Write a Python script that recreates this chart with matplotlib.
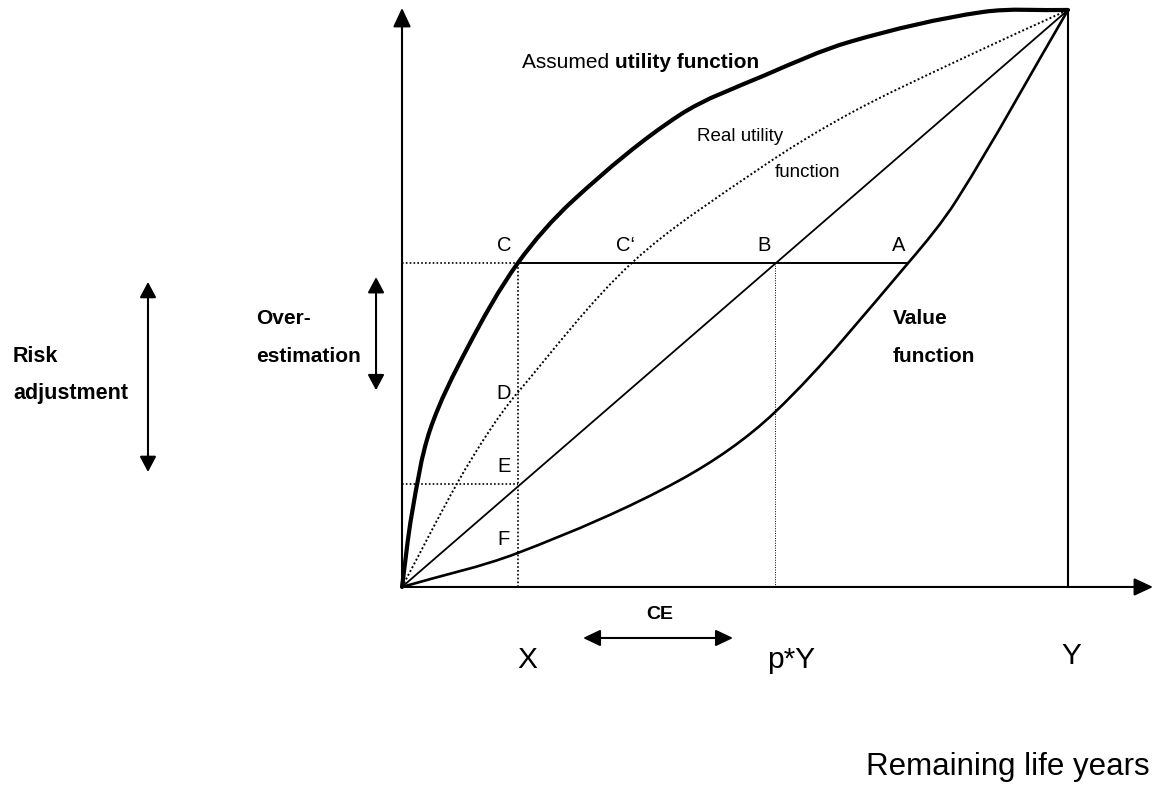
import math
import matplotlib.pyplot as plt
from matplotlib.path import Path
from matplotlib.patches import PathPatch

plt.rcParams['font.family'] = ['Liberation Sans', 'DejaVu Sans']

# diagram units: x = share of Y (remaining life years), y = utility (0..1)
# assumed utility function (thick, concave)
assumed_x = [0.0, 0.015, 0.042, 0.099, 0.174, 0.258, 0.417, 0.545, 0.673, 0.872, 1.0]
assumed_y = [0.0, 0.128, 0.272, 0.416, 0.5615, 0.671, 0.818, 0.887, 0.945, 0.9965, 1.0]

# real utility function (dotted)
real_x = [0.0, 0.083, 0.132, 0.173, 0.345, 0.538, 0.673, 0.836, 1.0]
real_y = [0.0, 0.180, 0.272, 0.336, 0.5615, 0.726, 0.821, 0.913, 1.0]

# value function (convex)
value_x = [0.0, 0.174, 0.417, 0.560, 0.760, 0.833, 1.0]
value_y = [0.0, 0.059, 0.185, 0.303, 0.5615, 0.671, 1.0]

# key points
x_X = 0.174      # certainty equivalent X
x_pY = 0.560     # expected value p*Y
x_A = 0.760
level_C = 0.5615
level_E = 0.1785

point_labels = ['C', "C\u2018", 'B', 'A', 'D', 'E', 'F']
point_x = [0.153, 0.335, 0.5435, 0.746, 0.153, 0.153, 0.153]
point_y = [0.591, 0.591, 0.591, 0.591, 0.336, 0.208, 0.0815]

fig = plt.figure(figsize=(11.57, 7.85), dpi=100)
ax = fig.add_axes([0, 0, 1, 1])
ax.set_xlim(-0.6036, 1.1336)
ax.set_ylim(-0.3432, 1.0173)
ax.axis('off')


def arrow(x0, y0, x1, y1, style, hl, hw, lw=1.5):
    ax.annotate('', xy=(x1, y1), xytext=(x0, y0),
                arrowprops=dict(arrowstyle=f'{style},head_length={hl},head_width={hw}',
                                lw=lw, color='black', shrinkA=0, shrinkB=0,
                                mutation_scale=10))


# smooth bezier path through the read points (chord-length hermite handles)
def curve(xs, ys, **kw):
    pts = list(zip(xs, ys))
    n = len(pts)
    # segment lengths measured in screen proportions
    d = [math.hypot((pts[i + 1][0] - pts[i][0]) * 666, (pts[i + 1][1] - pts[i][1]) * 577)
         for i in range(n - 1)]
    tang = []
    for i in range(n):
        if i == 0:
            a, b, L = pts[0], pts[1], d[0]
        elif i == n - 1:
            a, b, L = pts[n - 2], pts[n - 1], d[n - 2]
        else:
            a, b, L = pts[i - 1], pts[i + 1], d[i - 1] + d[i]
        tang.append(((b[0] - a[0]) / L, (b[1] - a[1]) / L))
    verts = [pts[0]]
    codes = [Path.MOVETO]
    for i in range(n - 1):
        p1, p2 = pts[i], pts[i + 1]
        h = d[i] / 3
        c1 = (p1[0] + tang[i][0] * h, p1[1] + tang[i][1] * h)
        c2 = (p2[0] - tang[i + 1][0] * h, p2[1] - tang[i + 1][1] * h)
        verts += [c1, c2, p2]
        codes += [Path.CURVE4] * 3
    ax.add_patch(PathPatch(Path(verts, codes), fill=False, edgecolor='black', **kw))


# axes with arrows
arrow(0, 0, 0, 1.0035, '-|>', 1.15, 0.54)
arrow(0, 0, 1.1276, 0, '-|>', 1.15, 0.54)

# vertical line at Y
ax.plot([1.0, 1.0], [0, 1.0], color='black', lw=1.5)

# curves
curve(assumed_x, assumed_y, lw=3.0, capstyle='round')
curve(real_x, real_y, lw=1.4, linestyle=(0, (1, 1.2)))
ax.plot([0, 1], [0, 1], color='black', lw=1.3)
curve(value_x, value_y, lw=1.9)

# guide lines
ax.plot([x_X, x_A], [level_C, level_C], color='black', lw=1.4)
ax.plot([0, x_X], [level_C, level_C], color='black', lw=1.2, linestyle=(0, (1, 1.3)))
ax.plot([x_X, x_X], [0, level_C], color='black', lw=1.2, linestyle=(0, (1, 1.3)))
ax.plot([0, x_X], [level_E, level_E], color='black', lw=1.2, linestyle=(0, (1, 1.3)))
ax.plot([x_pY, x_pY], [0, level_C], color='black', lw=0.7, linestyle=(0, (1, 1.5)))

# double arrows
arrow(-0.3814, 0.1993, -0.3814, 0.5286, '<|-|>', 0.94, 0.5)
arrow(-0.039, 0.341, -0.039, 0.537, '<|-|>', 0.94, 0.5)
arrow(0.2718, -0.0884, 0.497, -0.0884, '<|-|>', 1.05, 0.5)

# point letters
for lab, px, py in zip(point_labels, point_x, point_y):
    ax.text(px, py, lab, fontsize=14.5, ha='center', va='center')

# curve names
t1 = ax.text(0.180, 0.8995, 'Assumed ', fontsize=15, ha='left', va='baseline')
ax.annotate('utility function', xy=(1, 0), xycoords=t1, xytext=(0, 0),
            textcoords='offset points', fontsize=15, fontweight='bold',
            ha='left', va='bottom')
ax.text(0.443, 0.780, 'Real utility', fontsize=13.5, ha='left', va='center')
ax.text(0.560, 0.719, 'function', fontsize=13.5, ha='left', va='center')
ax.text(0.737, 0.4645, 'Value', fontsize=15, fontweight='bold', ha='left', va='center')
ax.text(0.737, 0.400, 'function', fontsize=15, fontweight='bold', ha='left', va='center')

# side labels
ax.text(-0.584, 0.400, 'Risk', fontsize=15.5, fontweight='bold', ha='left', va='center')
ax.text(-0.584, 0.336, 'adjustment', fontsize=15.5, fontweight='bold', ha='left', va='center')
ax.text(-0.219, 0.466, 'Over-', fontsize=15, fontweight='bold', ha='left', va='center')
ax.text(-0.219, 0.400, 'estimation', fontsize=15, fontweight='bold', ha='left', va='center')
ax.text(0.387, -0.0485, 'CE', fontsize=14, fontweight='bold', ha='center', va='center')

# x labels
ax.text(x_X + 0.0137, -0.1265, 'X', fontsize=21.5, ha='center', va='center')
ax.text(0.584, -0.1265, 'p*Y', fontsize=21.5, ha='center', va='center')
ax.text(1.0045, -0.1196, 'Y', fontsize=21.5, ha='center', va='center')
ax.text(1.123, -0.3258, 'Remaining life years', fontsize=22.5, ha='right', va='baseline')

fig.savefig('out.png', dpi=100)
